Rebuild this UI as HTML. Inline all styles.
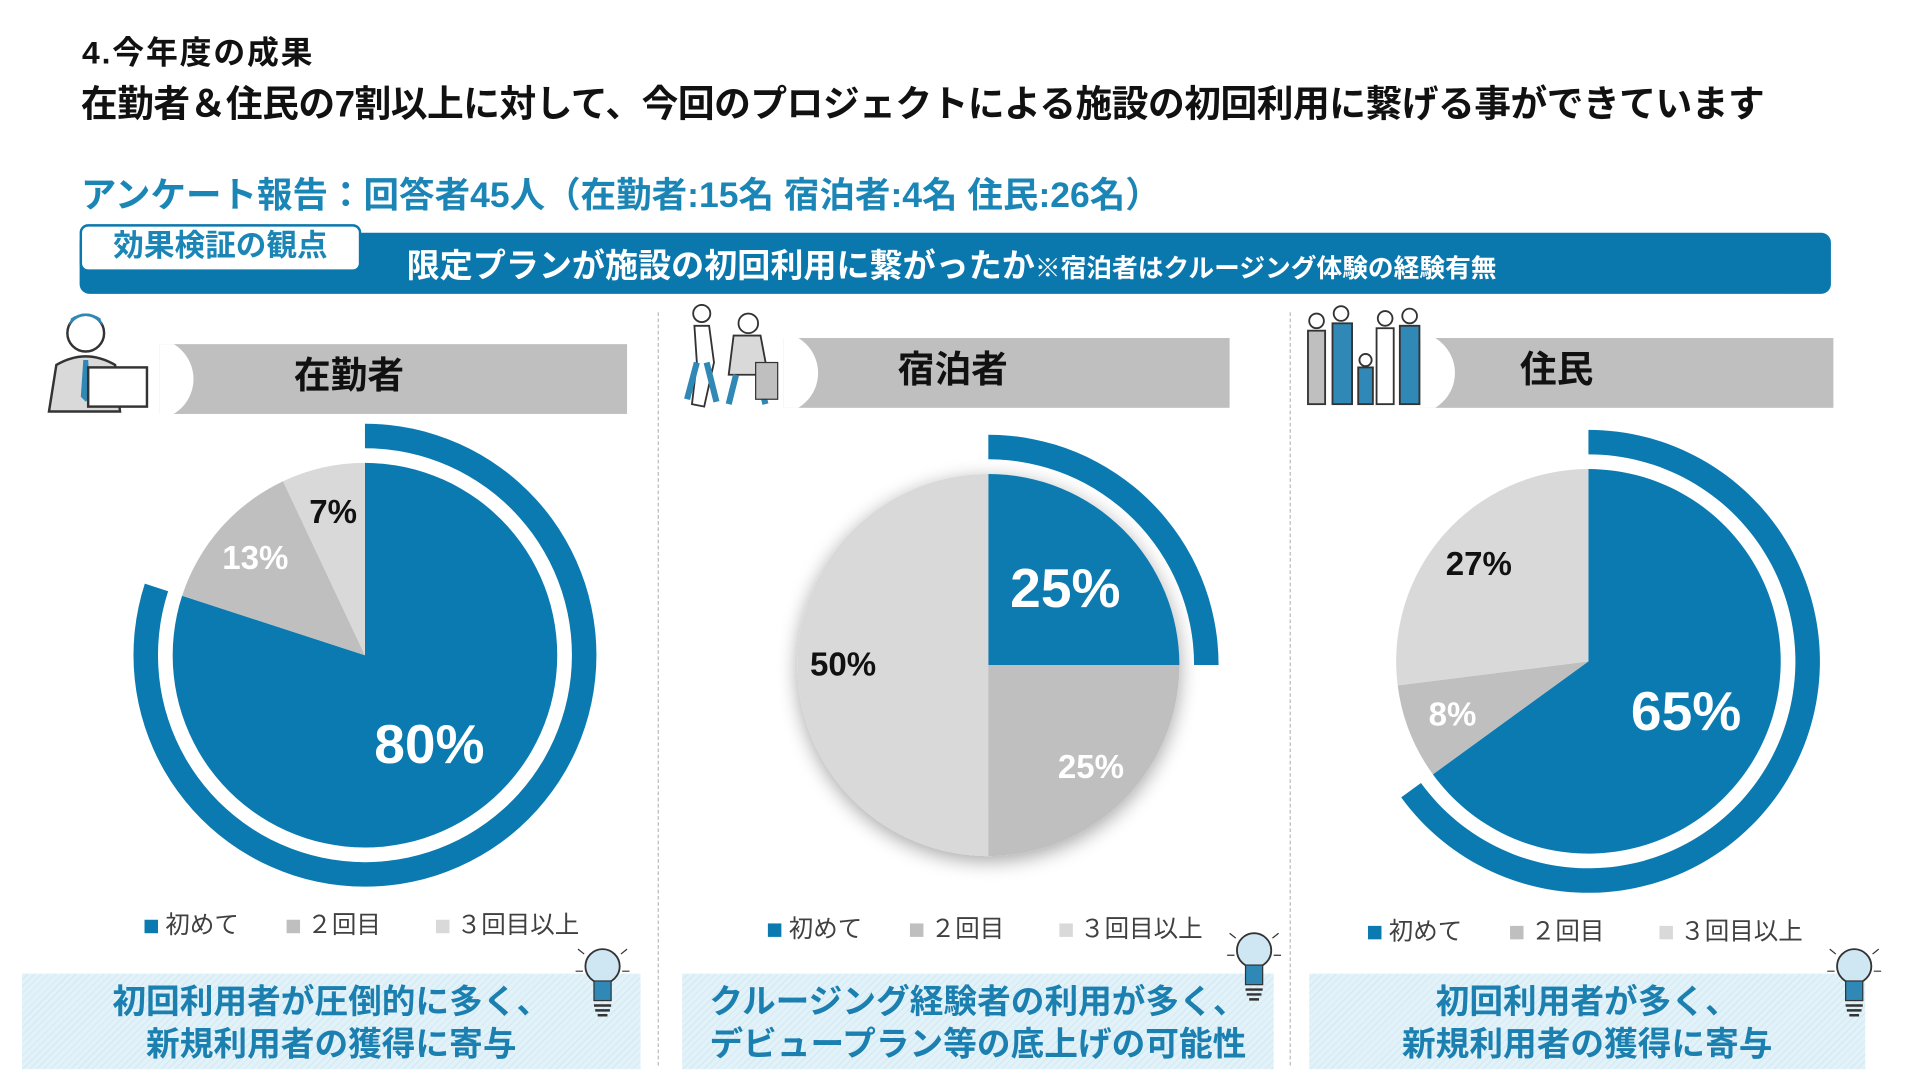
<!DOCTYPE html>
<html><head><meta charset="utf-8">
<style>
html,body{margin:0;padding:0;background:#fff;overflow:hidden}
#root{position:absolute;left:0;top:0;width:1568px;height:882px;transform:scale(1.2247);transform-origin:0 0;font-family:"Liberation Sans","Noto Sans CJK JP",sans-serif;font-weight:bold}
.a{position:absolute;white-space:nowrap}
.hdr{position:absolute;height:57px;background:#bfbfbf;overflow:hidden}
.hdr .cut{position:absolute;left:-40px;top:-5px;width:68px;height:67px;border-radius:50%;background:#fff}
.hdr span{position:absolute;top:-2px;line-height:57px;font-size:30px;color:#111;transform:translateX(-50%)}
.div{position:absolute;top:255px;height:615px;border-left:1.5px dashed #bbb}
.leg{position:absolute;font-size:20px;font-weight:normal;color:#404040;line-height:22px}
.sq{position:absolute;width:11px;height:11px}
.concl{position:absolute;top:795px;height:78px;background:repeating-linear-gradient(135deg,#e2f2f8 0 3px,#d4ebf4 3px 4px);color:#1b7fb0;font-size:27.5px;text-align:center;line-height:35px;padding-top:5px;box-sizing:border-box}
</style></head>
<body>
<div id="root">
<div class="a" style="left:67px;top:23px;font-size:26px;letter-spacing:1.5px;color:#111">4.今年度の成果</div>
<div class="a" style="left:66px;top:60px;font-size:30px;color:#111;letter-spacing:-0.4px">在勤者＆住民の7割以上に対して、今回のプロジェクトによる施設の初回利用に繋げる事ができています</div>
<div class="a" style="left:66px;top:136px;font-size:29px;color:#1b86b5">アンケート報告：回答者45人（在勤者:15名 宿泊者:4名 住民:26名）</div>
<div class="a" style="left:65px;top:190px;width:1430px;height:50px;background:#0b78ad;border-radius:8px">
  <div class="a" style="left:267px;top:5px;font-size:27px;color:#fff">限定プランが施設の初回利用に繋がったか<span style="font-size:21px">※宿泊者はクルージング体験の経験有無</span></div>
</div>
<div class="a" style="left:65px;top:183px;width:226px;height:35px;background:#fff;border:2px solid #0b78ad;border-radius:7px;color:#1b86b5;font-size:25px;text-align:center;line-height:33px">効果検証の観点</div>

<div class="div" style="left:537px"></div>
<div class="div" style="left:1053px"></div>

<div class="hdr" style="left:130px;top:281px;width:382px"><div class="cut"></div><span style="left:155px">在勤者</span></div>
<div class="hdr" style="left:640px;top:276px;width:364px"><div class="cut"></div><span style="left:138px">宿泊者</span></div>
<div class="hdr" style="left:1160px;top:276px;width:337px"><div class="cut"></div><span style="left:111px">住民</span></div>

<svg class="a" style="left:32px;top:248px" width="95" height="92">
<circle cx="38" cy="24" r="15" fill="#fff" stroke="#333" stroke-width="2"/><path d="M24 18 Q38 2 52 18 L50 12 Q38 4 26 12Z" fill="#2f88b5"/>
<path d="M8 88 L14 50 Q38 36 62 50 L66 88Z" fill="#d9d9d9" stroke="#333" stroke-width="2"/><path d="M36 46 L40 46 L42 76 L38 80 L34 76Z" fill="#2f88b5"/>
<rect x="40" y="52" width="48" height="32" fill="#fff" stroke="#333" stroke-width="2"/></svg>
<svg class="a" style="left:555px;top:246px" width="92" height="90">
<circle cx="18" cy="10" r="7" fill="#fff" stroke="#333" stroke-width="1.5"/><path d="M12 20 L24 20 L28 50 L20 86 L10 84 L14 50Z" fill="#fff" stroke="#333" stroke-width="1.5"/><path d="M14 50 L6 80 M22 50 L30 82" stroke="#2f88b5" stroke-width="5"/>
<circle cx="56" cy="18" r="8" fill="#fff" stroke="#333" stroke-width="1.5"/><path d="M44 28 L66 28 L72 60 L40 60Z" fill="#d9d9d9" stroke="#333" stroke-width="1.5"/><path d="M46 60 L40 84 M64 60 L70 84" stroke="#2f88b5" stroke-width="5"/><rect x="62" y="50" width="18" height="30" fill="#bfbfbf" stroke="#333"/></svg>
<svg class="a" style="left:1063px;top:246px" width="105" height="92">
<g stroke="#333" stroke-width="1.5"><circle cx="12" cy="16" r="6" fill="#fff"/><rect x="5" y="24" width="14" height="60" fill="#bfbfbf"/><circle cx="32" cy="10" r="6" fill="#fff"/><rect x="25" y="18" width="16" height="66" fill="#2f88b5"/><circle cx="52" cy="48" r="5" fill="#fff"/><rect x="46" y="54" width="12" height="30" fill="#2f88b5"/><circle cx="68" cy="14" r="6" fill="#fff"/><rect x="61" y="22" width="14" height="62" fill="#fff"/><circle cx="88" cy="12" r="6" fill="#fff"/><rect x="80" y="20" width="16" height="64" fill="#2f88b5"/></g></svg>

<svg class="a" style="left:0;top:0" width="1568" height="882" id="charts">
<defs><filter id="sh" x="-20%" y="-20%" width="140%" height="140%"><feGaussianBlur in="SourceAlpha" stdDeviation="8"/><feOffset dx="0" dy="4"/><feComponentTransfer><feFuncA type="linear" slope="0.35"/></feComponentTransfer><feMerge><feMergeNode/><feMergeNode in="SourceGraphic"/></feMerge></filter></defs>
</svg>

<div class="concl" style="left:18px;width:505px">初回利用者が圧倒的に多く、<br>新規利用者の獲得に寄与</div>
<div class="concl" style="left:557px;width:483px">クルージング経験者の利用が多く、<br>デビュープラン等の底上げの可能性</div>
<div class="concl" style="left:1069px;width:454px">初回利用者が多く、<br>新規利用者の獲得に寄与</div>

<svg class="a" style="left:468px;top:765px" width="50" height="72"><circle cx="24" cy="24" r="14" fill="#cfe7f2" stroke="#333" stroke-width="1.5"/><rect x="17" y="36" width="14" height="16" fill="#2f88b5" stroke="#333"/><path d="M17 56h14M18 60h12M20 64h8" stroke="#333" stroke-width="2"/><path d="M4 10l5 4M44 10l-5 4M2 28h6M40 28h6" stroke="#333"/></svg>
<svg class="a" style="left:1000px;top:752px" width="50" height="78"><circle cx="24" cy="24" r="14" fill="#cfe7f2" stroke="#333" stroke-width="1.5"/><rect x="17" y="36" width="14" height="16" fill="#2f88b5" stroke="#333"/><path d="M17 56h14M18 60h12M20 64h8" stroke="#333" stroke-width="2"/><path d="M4 10l5 4M44 10l-5 4M2 28h6M40 28h6" stroke="#333"/></svg>
<svg class="a" style="left:1490px;top:765px" width="50" height="72"><circle cx="24" cy="24" r="14" fill="#cfe7f2" stroke="#333" stroke-width="1.5"/><rect x="17" y="36" width="14" height="16" fill="#2f88b5" stroke="#333"/><path d="M17 56h14M18 60h12M20 64h8" stroke="#333" stroke-width="2"/><path d="M4 10l5 4M44 10l-5 4M2 28h6M40 28h6" stroke="#333"/></svg>
<div id="legends"></div>
</div>

<script>
const categories = ["初めて", "２回目", "３回目以上"];
const workersValues = [80, 13, 7];
const guestsValues = [25, 25, 50];
const residentsValues = [65, 8, 27];
const workersLabels = ["80%", "13%", "7%"];
const guestsLabels = ["25%", "25%", "50%"];
const residentsLabels = ["65%", "8%", "27%"];

const NS = "http://www.w3.org/2000/svg";
const colors = ["#0a7ab0", "#bfbfbf", "#d9d9d9"];
const labelColors = ["#fff", "#fff", "#111"];
const svg = document.getElementById("charts");
const legends = document.getElementById("legends");

function pt(cx, cy, r, frac) {
  const a = frac * 2 * Math.PI - Math.PI / 2;
  return [cx + r * Math.cos(a), cy + r * Math.sin(a)];
}
function sector(cx, cy, r, f0, f1) {
  if (f1 - f0 >= 0.9999) return `M${cx - r},${cy}a${r},${r} 0 1,0 ${2*r},0a${r},${r} 0 1,0 ${-2*r},0Z`;
  const [x0, y0] = pt(cx, cy, r, f0), [x1, y1] = pt(cx, cy, r, f1);
  const big = f1 - f0 > 0.5 ? 1 : 0;
  return `M${cx},${cy}L${x0},${y0}A${r},${r} 0 ${big},1 ${x1},${y1}Z`;
}
function ring(cx, cy, r0, r1, f0, f1) {
  const [a, b] = pt(cx, cy, r1, f0), [c, d] = pt(cx, cy, r1, f1);
  const [e, f] = pt(cx, cy, r0, f1), [g, h] = pt(cx, cy, r0, f0);
  const big = f1 - f0 > 0.5 ? 1 : 0;
  return `M${a},${b}A${r1},${r1} 0 ${big},1 ${c},${d}L${e},${f}A${r0},${r0} 0 ${big},0 ${g},${h}Z`;
}

function drawPie(name, values, labels, cx, cy, r, shadow, legendX, legendY) {
  const total = values.reduce((s, v) => s + v, 0);
  const g = document.createElementNS(NS, "g");
  
  
  if (shadow) g.setAttribute("filter", "url(#sh)");
  svg.appendChild(g);
  let acc = 0;
  values.forEach((v, i) => {
    const f0 = acc / total, f1 = (acc + v) / total;
    const p = document.createElementNS(NS, "path");
    
    
    p.setAttribute("d", sector(cx, cy, r, f0, f1));
    p.setAttribute("fill", colors[i]);
    g.appendChild(p);
    acc += v;
  });
  const rg = document.createElementNS(NS, "path");
  
  
  rg.setAttribute("d", ring(cx, cy, r + 12, r + 32, 0, values[0] / total));
  rg.setAttribute("fill", colors[0]);
  svg.appendChild(rg);
  acc = 0;
  values.forEach((v, i) => {
    const mid = (acc + v / 2) / total;
    const big = i === 0;
    const rr = big ? r * 0.57 : r * 0.76;
    const [x, y] = pt(cx, cy, rr, mid);
    const t = document.createElementNS(NS, "text");
    
    
    t.setAttribute("x", x); t.setAttribute("y", y);
    t.setAttribute("text-anchor", "middle");
    t.setAttribute("dominant-baseline", "central");
    t.setAttribute("font-size", big ? 45 : 27);
    t.setAttribute("font-weight", "bold");
    t.setAttribute("font-family", '"Liberation Sans","Noto Sans CJK JP",sans-serif');
    t.setAttribute("fill", labelColors[i]);
    t.textContent = labels[i];
    svg.appendChild(t);
    acc += v;
  });
  const offs = [0, 116, 238];
  categories.forEach((c, i) => {
    const sq = document.createElement("div");
    sq.className = "sq";
    
    
    sq.style.left = (legendX + offs[i]) + "px";
    sq.style.top = (legendY - 6) + "px";
    sq.style.background = colors[i];
    legends.appendChild(sq);
    const tx = document.createElement("div");
    tx.className = "leg";
    
    
    tx.style.left = (legendX + offs[i] + 17) + "px";
    tx.style.top = (legendY - 12) + "px";
    tx.textContent = c;
    legends.appendChild(tx);
  });
}
drawPie("workers", workersValues, workersLabels, 298, 535, 157, false, 118, 757);
drawPie("guests", guestsValues, guestsLabels, 807, 543, 156, true, 627, 760);
drawPie("residents", residentsValues, residentsLabels, 1297, 540, 157, false, 1117, 762);
</script>
</body></html>
